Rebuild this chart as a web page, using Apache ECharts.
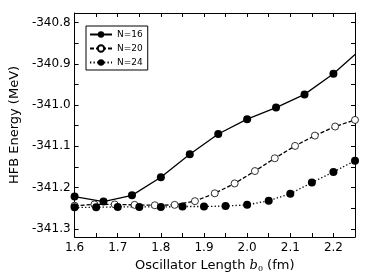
<!DOCTYPE html>
<html>
<head>
<meta charset="utf-8">
<script src="https://cdn.jsdelivr.net/npm/echarts@6/dist/echarts.min.js"></script>
<style>
html,body{margin:0;padding:0;background:#fff;}
#chart{width:374px;height:280px;}
</style>
</head>
<body>
<div id="chart"></div>
<script>
// ---- data ----
var x16 = [1.600, 1.667, 1.733, 1.800, 1.867, 1.933, 2.000, 2.067, 2.133, 2.200, 2.267];
var e16 = [-341.222, -341.234, -341.219, -341.175, -341.119, -341.070, -341.034, -341.006, -340.974, -340.924, -340.861];

var x20 = [1.600, 1.646, 1.693, 1.739, 1.786, 1.832, 1.879, 1.925, 1.971, 2.018, 2.064, 2.111, 2.157, 2.204, 2.250];
var e20 = [-341.244, -341.241, -341.241, -341.242, -341.243, -341.242, -341.233, -341.214, -341.190, -341.160, -341.129, -341.099, -341.074, -341.052, -341.036];

var x24 = [1.60, 1.65, 1.70, 1.75, 1.80, 1.85, 1.90, 1.95, 2.00, 2.05, 2.10, 2.15, 2.20, 2.25];
var e24 = [-341.248, -341.248, -341.247, -341.247, -341.247, -341.246, -341.246, -341.245, -341.242, -341.232, -341.215, -341.188, -341.162, -341.135];

var seriesNames = ['N=16', 'N=20', 'N=24'];

var xLabelTicks = [1.6, 1.7, 1.8, 1.9, 2.0, 2.1, 2.2];
var xMinorTicks = [1.6, 1.65, 1.7, 1.75, 1.8, 1.85, 1.9, 1.95, 2.0, 2.05, 2.1, 2.15, 2.2, 2.25];
var yLabelTicks = [-341.3, -341.2, -341.1, -341.0, -340.9, -340.8];
var yMinorTicks = [-341.3, -341.25, -341.2, -341.15, -341.1, -341.05, -341.0, -340.95, -340.9, -340.85, -340.8];

var xRange = [1.6, 2.25];
var yRange = [-341.320, -340.7765];

function pairs(xs, ys) { return xs.map(function (x, i) { return [x, ys[i]]; }); }

var FONT = 'DejaVu Sans';
var chart = echarts.init(document.getElementById('chart'), null, {renderer: 'canvas'});

function xAx(pos, main) {
  return {
    type: 'value', position: pos, min: xRange[0], max: xRange[1],
    axisLine: {show: true, onZero: false, lineStyle: {color: '#000', width: 1}},
    axisTick: {show: true, inside: true, length: 4, customValues: xMinorTicks, lineStyle: {color: '#000', width: 1}},
    axisLabel: {show: main, customValues: xLabelTicks, margin: 5, color: '#000', fontFamily: FONT, fontSize: 12,
      formatter: function (v) { return v.toFixed(1); }},
    splitLine: {show: false},
    name: main ? '{t|Oscillator Length }{b|b}{s|0}{t| (fm)}' : '',
    nameLocation: 'middle', nameGap: 20,
    nameTextStyle: {color: '#000', fontFamily: FONT, fontSize: 13,
      rich: {
        t: {fontFamily: FONT, fontSize: 13, color: '#000'},
        b: {fontFamily: 'DejaVu Serif', fontStyle: 'italic', fontSize: 13, color: '#000'},
        s: {fontFamily: 'DejaVu Serif', fontSize: 8, color: '#000', padding: [8, 0, 0, 0]}
      }}
  };
}
function yAx(pos, main) {
  return {
    type: 'value', position: pos, min: yRange[0], max: yRange[1],
    axisLine: {show: true, onZero: false, lineStyle: {color: '#000', width: 1}},
    axisTick: {show: true, inside: true, length: 4, customValues: yMinorTicks, lineStyle: {color: '#000', width: 1}},
    axisLabel: {show: main, customValues: yLabelTicks, margin: 4, color: '#000', fontFamily: FONT, fontSize: 12,
      formatter: function (v) { return v.toFixed(1); }},
    splitLine: {show: false},
    name: main ? 'HFB Energy (MeV)' : '',
    nameLocation: 'middle', nameGap: 49,
    nameTextStyle: {color: '#000', fontFamily: FONT, fontSize: 13}
  };
}

var option = {
  backgroundColor: '#fff',
  animation: false,
  grid: {left: 71, right: 19, top: 13, bottom: 43, containLabel: false},
  xAxis: [xAx('bottom', true), xAx('top', false)],
  yAxis: [yAx('left', true), yAx('right', false)],
  legend: {
    orient: 'vertical', left: 86, top: 26,
    padding: [4, 5, 3, 3], itemGap: 5, itemWidth: 22, itemHeight: 8,
    borderColor: '#000', borderWidth: 1, backgroundColor: '#fff',
    textStyle: {fontFamily: FONT, fontSize: 9, color: '#000'},
    data: seriesNames
  },
  series: [
    {name: seriesNames[0], type: 'line', data: pairs(x16, e16), clip: true,
     symbol: 'circle', symbolSize: 8, itemStyle: {color: '#000'},
     lineStyle: {color: '#000', width: 1.3, type: 'solid'}},
    {name: seriesNames[1], type: 'line', data: pairs(x20, e20), clip: true,
     symbol: 'circle', symbolSize: 7, itemStyle: {color: '#fff', borderColor: '#000', borderWidth: 0.8},
     lineStyle: {color: '#000', width: 1.3, type: [4, 2]}},
    {name: seriesNames[2], type: 'line', data: pairs(x24, e24), clip: true,
     symbol: 'circle', symbolSize: 8, itemStyle: {color: '#000'},
     lineStyle: {color: '#000', width: 1.3, type: [1.3, 2.2]}}
  ]
};
chart.setOption(option);
</script>
</body>
</html>
